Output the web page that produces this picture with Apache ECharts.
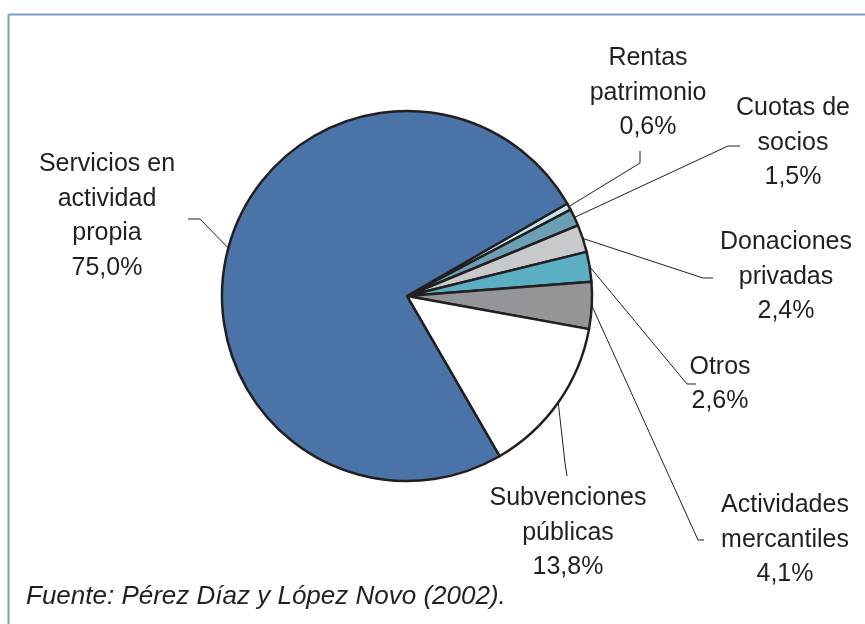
<!DOCTYPE html>
<html>
<head>
<meta charset="utf-8">
<script src="https://cdn.jsdelivr.net/npm/echarts@6/dist/echarts.min.js"></script>
<style>
  html, body { margin: 0; padding: 0; background: #fff; }
  #chart { width: 865px; height: 624px; }
</style>
</head>
<body>
<div id="chart"></div>
<script>
// categories, clockwise from the upper right
var categories = [
  'Rentas\npatrimonio',
  'Cuotas de\nsocios',
  'Donaciones\nprivadas',
  'Otros',
  'Actividades\nmercantiles',
  'Subvenciones\npúblicas',
  'Servicios en\nactividad\npropia'
];
var shares = [0.6, 1.5, 2.4, 2.6, 4.1, 13.8, 75.0];
var sliceColors = ['#c6e6ee', '#6b9fb3', '#c7c9cb', '#5aafc2', '#939598', '#ffffff', '#4a74a8'];
var sourceText = 'Fuente: Pérez Díaz y López Novo (2002).';

// label centre and guide line elbow/end for each slice
var labelPos = [
  { x: 648, y: 93, elbow: [640, 163], end: [640, 151] },
  { x: 793, y: 143, elbow: [728, 146], end: [740, 146] },
  { x: 786, y: 277, elbow: [703, 278], end: [713, 278] },
  { x: 720, y: 384, elbow: [687, 384], end: [696, 384] },
  { x: 785, y: 540, elbow: [698, 540], end: [704, 540] },
  { x: 568, y: 533, elbow: [565, 463], end: [567, 476] },
  { x: 107, y: 216, elbow: [200, 219], end: [188, 219] }
];

var chart = echarts.init(document.getElementById('chart'));

var option = {
  animation: false,
  backgroundColor: '#ffffff',
  graphic: [
    { type: 'line', shape: { x1: 8.5, y1: 14.5, x2: 865, y2: 14.5 }, style: { stroke: '#7f9dc2', lineWidth: 2 } },
    { type: 'line', shape: { x1: 8.5, y1: 14.5, x2: 8.5, y2: 624 }, style: { stroke: '#7f9dc2', lineWidth: 2 } },
    {
      type: 'text', left: 26, top: 584,
      style: { text: sourceText, font: 'italic 26px "Liberation Sans", Arial, sans-serif', fill: '#231f20' }
    }
  ],
  series: [{
    type: 'pie',
    center: [407, 296],
    radius: 185,
    startAngle: 30,
    clockwise: true,
    silent: true,
    avoidLabelOverlap: false,
    itemStyle: { borderColor: '#231f20', borderWidth: 2.5 },
    label: {
      show: true,
      position: 'outside',
      color: '#231f20',
      fontFamily: '"Liberation Sans", Arial, sans-serif',
      fontSize: 25,
      lineHeight: 34.5,
      align: 'center',
      formatter: function (p) {
        return p.name + '\n' + p.value.toFixed(1).replace('.', ',') + '%';
      }
    },
    labelLine: { show: true, length: 20, length2: 10, lineStyle: { color: '#231f20', width: 1 } },
    labelLayout: function (params) {
      var lp = labelPos[params.dataIndex];
      var start = params.labelLinePoints ? params.labelLinePoints[0] : lp.elbow;
      return {
        x: lp.x,
        y: lp.y,
        align: 'center',
        verticalAlign: 'middle',
        labelLinePoints: [start, lp.elbow, lp.end]
      };
    },
    data: categories.map(function (c, i) {
      return { name: c, value: shares[i], itemStyle: { color: sliceColors[i] } };
    })
  }]
};

chart.setOption(option);
</script>
</body>
</html>
